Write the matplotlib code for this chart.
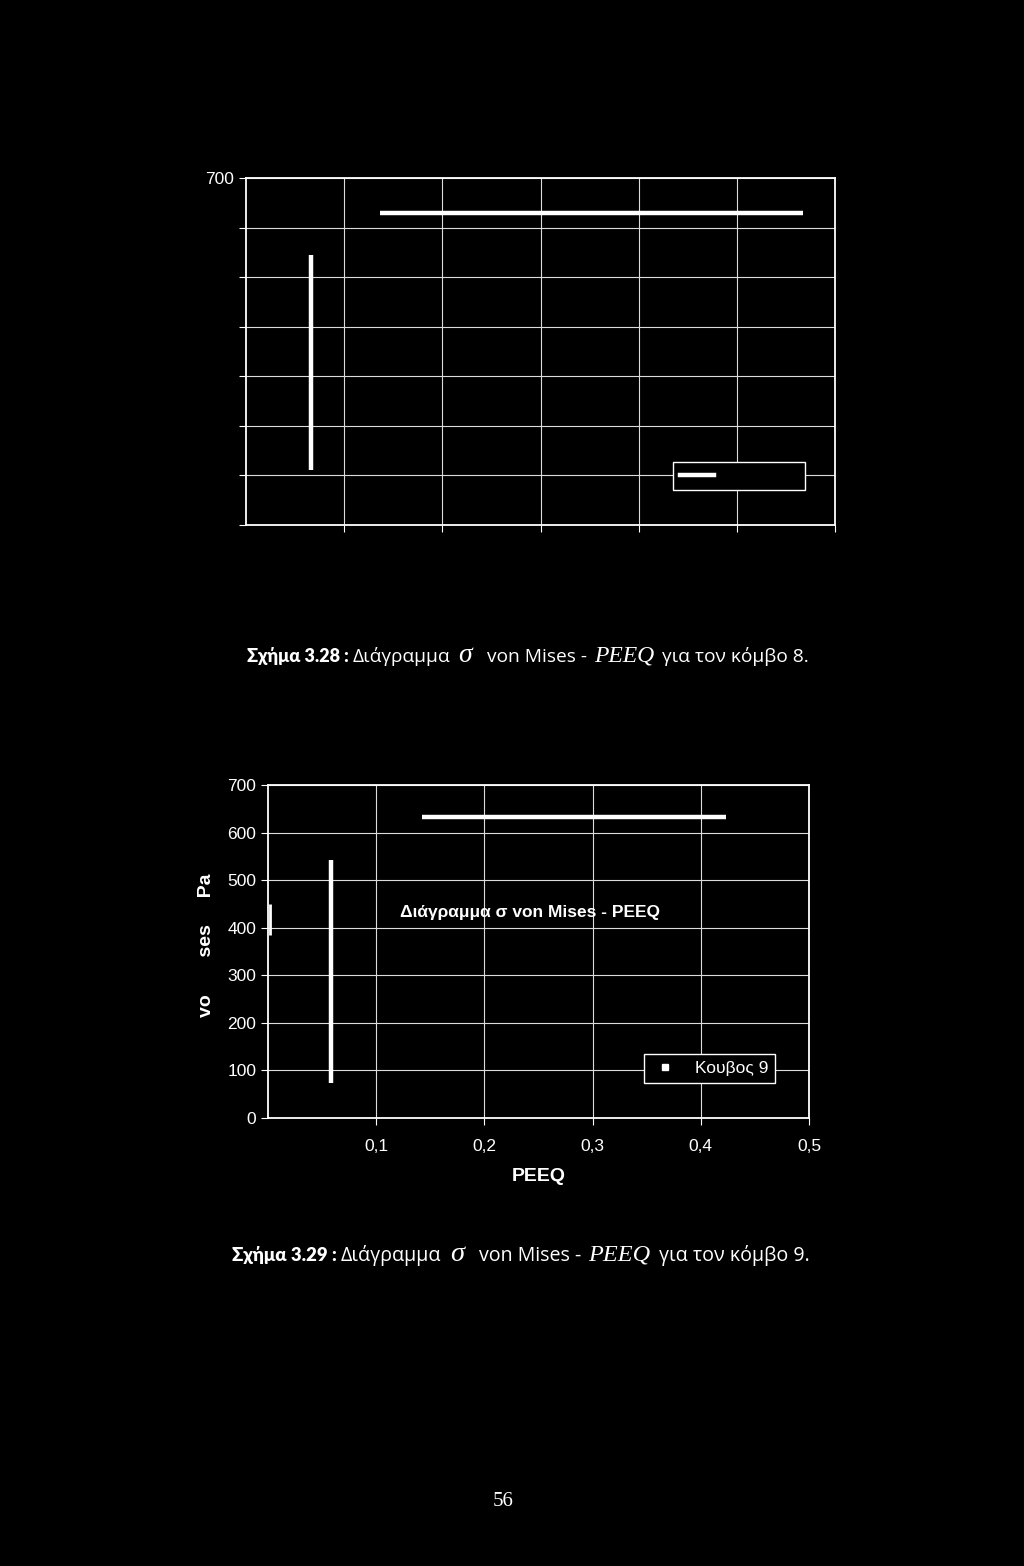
import matplotlib
matplotlib.use("Agg")
import matplotlib.pyplot as plt
from matplotlib.lines import Line2D

# node 8 (top chart): plastic strain vs von Mises stress
peeq8_a = [0.066, 0.066]
mises8_a = [111, 545]
peeq8_b = [0.137, 0.567]
mises8_b = [629, 629]

# node 9 (bottom chart)
peeq9_0 = [0.002, 0.002]
mises9_0 = [385, 450]
peeq9_a = [0.058, 0.058]
mises9_a = [74, 542]
peeq9_b = [0.142, 0.423]
mises9_b = [633, 633]

y_ticks = [0, 100, 200, 300, 400, 500, 600, 700]
x_ticks9 = [0.1, 0.2, 0.3, 0.4, 0.5]
x_labels9 = ["0,1", "0,2", "0,3", "0,4", "0,5"]
x_ticks8 = [0.1, 0.2, 0.3, 0.4, 0.5, 0.6]

W, H = 1024, 1566
fig = plt.figure(figsize=(W / 100, H / 100), dpi=100, facecolor="black")
sans = ["Liberation Sans", "DejaVu Sans"]


def style(ax):
    ax.set_facecolor("black")
    for s in ax.spines.values():
        s.set_color("white")
        s.set_linewidth(1.3)
    ax.grid(True, color="#dcdcdc", lw=0.8)
    ax.set_axisbelow(True)
    ax.tick_params(colors="white", direction="out", length=5, width=0.8,
                   labelsize=12.5)
    for lab in ax.get_xticklabels() + ax.get_yticklabels():
        lab.set_family(sans)


def dark_legend(leg):
    fr = leg.get_frame()
    fr.set_facecolor("black")
    fr.set_edgecolor("white")
    fr.set_linewidth(1.0)
    fr.set_alpha(1)


# ---- top chart (node 8)
ax1 = fig.add_axes([246 / W, 1 - 525 / H, 589 / W, 347 / H])
ax1.plot(peeq8_a, mises8_a, color="white", lw=3.2, solid_capstyle="butt")
ax1.plot(peeq8_b, mises8_b, color="white", lw=3.2, solid_capstyle="butt")
ax1.set_xlim(0, 0.6)
ax1.set_ylim(0, 700)
ax1.set_xticks(x_ticks8)
ax1.set_xticklabels([""] * len(x_ticks8))
ax1.set_yticks(y_ticks)
ax1.set_yticklabels([""] * (len(y_ticks) - 1) + ["700"])
style(ax1)
h1 = Line2D([], [], color="white", lw=3.2)
leg1 = ax1.legend([h1], ["                  "], loc="lower right",
                  bbox_to_anchor=(0.949, 0.101), borderaxespad=0,
                  handlelength=2.2, frameon=True, fancybox=False,
                  prop={"family": sans, "size": 11},
                  borderpad=0.45, handletextpad=0.5)
dark_legend(leg1)

# ---- bottom chart (node 9)
ax2 = fig.add_axes([268 / W, 1 - 1118 / H, 541 / W, 333 / H])
ax2.plot(peeq9_0, mises9_0, color="white", lw=2.0, solid_capstyle="butt")
ax2.plot(peeq9_a, mises9_a, color="white", lw=3.2, solid_capstyle="butt")
ax2.plot(peeq9_b, mises9_b, color="white", lw=3.2, solid_capstyle="butt")
ax2.set_xlim(0, 0.5)
ax2.set_ylim(0, 700)
ax2.set_xticks(x_ticks9)
ax2.set_xticklabels(x_labels9)
ax2.set_yticks(y_ticks)
style(ax2)
ax2.tick_params(axis="x", pad=10)
ax2.set_xlabel("PEEQ", color="white", fontsize=14, fontweight="bold",
               family=sans, labelpad=10)
ax2.set_ylabel("vo       ses     Pa", color="white", fontsize=14,
               fontweight="bold", family=sans)
ax2.yaxis.set_label_coords((215 - 268) / 541, (1118 - 945) / 333)
ax2.text(0.242, 431, "Διάγραμμα σ von Mises - PEEQ", color="white",
         fontsize=12.5, fontweight="bold", family=sans, ha="center", va="center")
h2 = Line2D([], [], color="white", marker="s", markersize=4, ls="none")
leg2 = ax2.legend([h2], ["Κουβος 9"], loc="lower right",
                  bbox_to_anchor=(0.937, 0.105), borderaxespad=0,
                  handlelength=1.6, frameon=True, fancybox=False,
                  prop={"family": sans, "size": 12.5},
                  borderpad=0.4, handletextpad=0.9, labelcolor="white")
dark_legend(leg2)


# ---- captions, built piece by piece (text, font, gap after in px)
def caption(x_px, y_px, num, k=1.0):
    reg = dict(family=["Open Sans", "DejaVu Sans"], size=13.8 * k)
    pieces = [
        (f"Σχήμα {num} :", dict(family=["Lato", "DejaVu Sans"], weight="heavy", size=13 * k), 4),
        ("Διάγραμμα", reg, 8),
        ("σ", dict(family=["Liberation Serif"], style="italic", size=20 * k), 15),
        ("von Mises -", reg, 7),
        ("PEEQ", dict(family=["Liberation Serif"], style="italic", size=17 * k), 8),
        ("για τον κόμβο " + num[-1] + ".", reg, 0),
    ]
    r = fig.canvas.get_renderer()
    x = x_px
    for txt, kw, gap in pieces:
        t = fig.text(x / W, 1 - y_px / H, txt, color="white", va="baseline",
                     ha="left", **kw)
        x = t.get_window_extent(renderer=r).x1 + gap * k


caption(247, 662, "3.28")
caption(232, 1261, "3.29", k=1.025)

fig.text(503 / W, 1 - 1502 / H, "56", color="white", fontsize=15,
         family="Liberation Serif", ha="center", va="center")

fig.savefig("out.png", dpi=100, facecolor="black")
